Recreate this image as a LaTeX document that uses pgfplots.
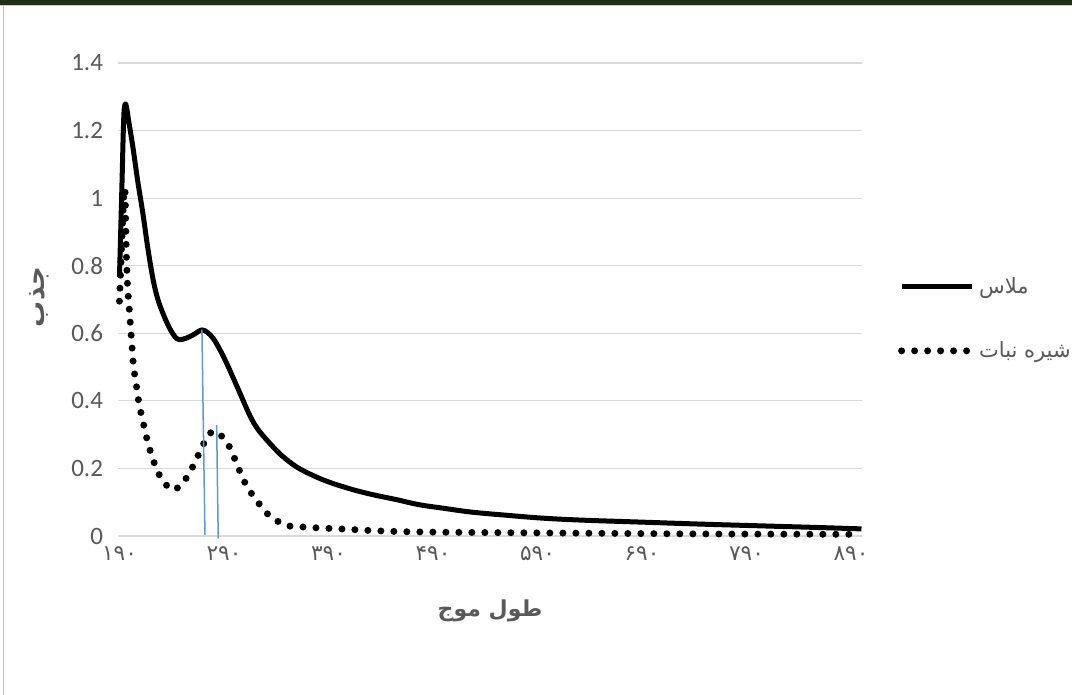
\documentclass[border=0pt]{standalone}
\usepackage{fontspec}
\setmainfont{Carlito}
\newfontfamily\arabicfont[Script=Arabic]{DejaVu Sans}
\usepackage{pgfplots}
\pgfplotsset{compat=1.18}
\TeXXeTstate=1
\definecolor{txtgray}{HTML}{595959}
\definecolor{gridgray}{HTML}{D9D9D9}
\definecolor{bluel}{HTML}{5B9BD5}
\definecolor{topgreen}{HTML}{1F2F17}
\begin{document}
\begin{tikzpicture}
\path[use as bounding box] (0,0) rectangle (536pt,347.5pt);
\fill[white] (0,0) rectangle (536pt,347.5pt);
\fill[topgreen] (0,345pt) rectangle (536pt,347.5pt);
\draw[gray!40, line width=0.5pt] (0,344.8pt) -- (536pt,344.8pt);
\draw[gray!50, line width=0.6pt] (1.6pt,0) -- (1.6pt,344.8pt);
\begin{axis}[
  at={(59pt,79.5pt)}, anchor=south west,
  scale only axis, width=372pt, height=236.5pt,
  xmin=188.6, xmax=900.5, ymin=0, ymax=1.4,
  clip=false,
  axis line style={draw=none},
  major tick length=0pt,
  ymajorgrids, grid style={gridgray, line width=0.6pt},
  ytick={0,0.2,0.4,0.6,0.8,1,1.2,1.4},
  yticklabels={0,0.2,0.4,0.6,0.8,1,1.2,1.4},
  xtick={190,290,390,490,590,690,790,890},
  xticklabels={۱۹۰,۲۹۰,۳۹۰,۴۹۰,۵۹۰,۶۹۰,۷۹۰,۸۹۰},
  yticklabel style={font=\fontsize{12.5}{14}\selectfont, text=txtgray, xshift=-4pt},
  xticklabel style={font=\arabicfont\fontsize{10.8}{12}\selectfont, text=txtgray, yshift=-2pt},
  xlabel={\arabicfont\bfseries\beginR طول موج\endR},
  ylabel={\arabicfont\bfseries\beginR جذب\endR},
  xlabel style={at={(axis description cs:0.5,-0.1586)}, anchor=center, font=\fontsize{11}{13}\selectfont, text=txtgray},
  ylabel style={at={(axis description cs:-0.106,0.505)}, anchor=center, font=\fontsize{13}{15}\selectfont, text=txtgray},
  legend style={at={(1.048,0.459)}, anchor=west, draw=none, fill=none,
    font=\arabicfont\fontsize{10.5}{12}\selectfont, text=txtgray, row sep=18.5pt, inner sep=0pt},
  legend cell align=left,
  legend image code/.code={\draw[#1] (0pt,0pt) -- (35pt,0pt);},
]
\addplot[black, line width=2.5pt, line join=round, smooth, tension=0.6] coordinates {
(190,0.767) (192.3,1.03) (194,1.23) (195.3,1.278) (196.8,1.268) (199,1.225)
(202.8,1.152) (207.5,1.05) (212.4,0.955)
(217,0.855) (222,0.762) (226.5,0.703) (231.6,0.659) (238,0.615) (244.5,0.585)
(250,0.582) (257.3,0.590) (263,0.600) (268.6,0.610) (274,0.603) (279.7,0.585)
(286,0.552) (292.6,0.511) (299,0.467) (305.4,0.422) (315,0.355) (322,0.318)
(331,0.284) (343.8,0.242) (350.3,0.225) (363,0.198) (385,0.166) (408,0.142)
(430,0.124) (456,0.107) (476,0.093) (498,0.083) (526,0.071) (558,0.062)
(594,0.053) (632,0.047) (690,0.041) (748,0.035) (815,0.029) (860,0.025) (900,0.021)
};
\addlegendentry{\beginR ملاس\endR}
\addplot[black, line width=3.5pt, line cap=round, dash pattern=on 0pt off 6.5pt, smooth, tension=0.5] coordinates {
(190,0.695) (192,0.85) (194,1.0) (195.3,1.02) (196.5,0.85) (197.7,0.743)
(199.6,0.663) (201.5,0.583) (203.4,0.503) (205.3,0.465) (207.2,0.423) (209.1,0.385)
(212,0.346) (214.9,0.305) (217.8,0.269) (221.6,0.231) (226.4,0.192) (232.1,0.160)
(241.7,0.136) (251.2,0.160) (257.9,0.192) (263.7,0.228) (269.4,0.266) (275.2,0.299)
(280,0.310) (284.7,0.305) (293.3,0.275) (299.1,0.237) (303.9,0.201) (308.7,0.166)
(315.4,0.130) (323,0.098) (330.7,0.068) (341.2,0.044) (351.7,0.030) (364.2,0.027)
(380,0.024) (401.5,0.021) (438.8,0.015) (476,0.012) (550,0.010) (650,0.008)
(750,0.006) (889,0.005)
};
\addlegendentry{\beginR شیره نبات\endR}
\addplot[bluel, line width=0.75pt, forget plot] coordinates {(268.9,0.611) (271.8,0.003)};
\addplot[bluel, line width=0.75pt, forget plot] coordinates {(283,0.328) (284.5,-0.007)};
\end{axis}
\end{tikzpicture}
\end{document}
